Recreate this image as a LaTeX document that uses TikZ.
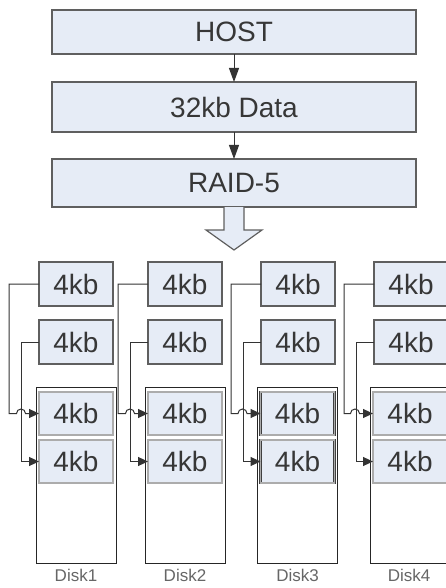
\documentclass[tikz,border=0pt]{standalone}
\usepackage{fontspec}
\setsansfont{Liberation Sans}
\usetikzlibrary{arrows.meta,positioning}
\definecolor{boxfill}{RGB}{230,236,246}
\definecolor{boxline}{RGB}{95,95,95}
\definecolor{textgray}{RGB}{55,55,55}
\tikzset{%
  >={Triangle[width=9pt,length=10pt]},
  % Specifications for style of nodes:
       topbox/.style = {rectangle, draw=boxline, line width=1.4pt,
                        fill=boxfill, minimum width=364pt, inner sep=0pt,
                        outer sep=0pt, text=textgray,
                        font=\sffamily\fontsize{28}{30}\selectfont},
     blockbox/.style = {topbox, minimum width=74pt, minimum height=44pt},
    diskblock/.style = {blockbox, draw=black!75, line width=0.6pt,
                        double=gray!65, double distance=1.4pt,
                        minimum height=43pt},
      diskbox/.style = {rectangle, draw=black!85, line width=1pt, fill=white,
                        minimum width=80pt, minimum height=176pt,
                        inner sep=0pt, outer sep=0pt},
    disklabel/.style = {inner sep=0pt, text=gray!80!black,
                        font=\sffamily\fontsize{17}{19}\selectfont},
  % Specifications for style of lines:
         link/.style = {->, draw=black!80, line width=1pt},
         flow/.style = {-{Triangle[width=10pt,length=14pt]}, draw=black!80,
                        line width=1pt},
     bigarrow/.style = {draw=boxline, line width=1.2pt, fill=boxfill,
                        line join=miter},
}

\begin{document}
\begin{tikzpicture}[x=1pt, y=-1pt, node distance=75pt]
  \useasboundingbox (0,0) rectangle (446,588);

  % Specification of nodes (position, etc.)
  \node (host)  [topbox, minimum height=44pt] at (234,32) {HOST};
  \node (data)  [topbox, minimum height=50pt, below of=host] {32kb Data};
  \node (raid)  [topbox, minimum height=48pt, below of=data, yshift=-1pt] {RAID-5};

  % disks: frame first, then the blocks on top
  \node (disk1) [diskbox] at (76,475)    {};
  \node (disk2) [diskbox] at (185,475)   {};
  \node (disk3) [diskbox] at (297.5,475) {};
  \node (disk4) [diskbox] at (410,475)   {};

  \node (a1)    [blockbox] at (76,284)    {4kb};
  \node (b1)    [blockbox, below=14pt of a1] {4kb};
  \node (c1)    [diskblock, below=5pt of disk1.north] {4kb};
  \node (d1)    [diskblock, below=5pt of c1] {4kb};

  \node (a2)    [blockbox] at (185,284)   {4kb};
  \node (b2)    [blockbox, below=14pt of a2] {4kb};
  \node (c2)    [diskblock, below=5pt of disk2.north] {4kb};
  \node (d2)    [diskblock, below=5pt of c2] {4kb};

  \node (a3)    [blockbox] at (298,284)   {4kb};
  \node (b3)    [blockbox, below=14pt of a3] {4kb};
  \node (c3)    [diskblock, below=5pt of disk3.north] {4kb};
  \node (d3)    [diskblock, below=5pt of c3] {4kb};

  \node (a4)    [blockbox] at (411,284)   {4kb};
  \node (b4)    [blockbox, below=14pt of a4] {4kb};
  \node (c4)    [diskblock, below=5pt of disk4.north] {4kb};
  \node (d4)    [diskblock, below=5pt of c4] {4kb};

  \node (l1)    [disklabel, below=6pt of disk1] {Disk1};
  \node (l2)    [disklabel, below=6pt of disk2] {Disk2};
  \node (l3)    [disklabel, below=6pt of disk3] {Disk3};
  \node (l4)    [disklabel, below=6pt of disk4, xshift=-1pt] {Disk4};

  % Specification of lines between nodes specified above
  \draw[flow]   (host) -- (data);
  \draw[flow]   (data) -- (raid);
  \draw[bigarrow] ([xshift=-10pt]raid.south) -- ++(0,23) -- ++(-18,0)
                  -- ++(28,20) -- ++(28,-20) -- ++(-18,0) -- ++(0,-23);

  % striping into the disks, upper line hops over the lower one
  \draw[link]   (a1.west) -- ++(-30,0) |- ([xshift=-22.5pt]c1.west)
                arc[start angle=180, end angle=0, radius=4.5pt] -- (c1.west);
  \draw[link]   (b1.west) -- ++(-18,0) |- (d1.west);
  \draw[link]   (a2.west) -- ++(-30,0) |- ([xshift=-22.5pt]c2.west)
                arc[start angle=180, end angle=0, radius=4.5pt] -- (c2.west);
  \draw[link]   (b2.west) -- ++(-18,0) |- (d2.west);
  \draw[link]   (a3.west) -- ++(-30,0) |- ([xshift=-22.5pt]c3.west)
                arc[start angle=180, end angle=0, radius=4.5pt] -- (c3.west);
  \draw[link]   (b3.west) -- ++(-18,0) |- (d3.west);
  \draw[link]   (a4.west) -- ++(-30,0) |- ([xshift=-22.5pt]c4.west)
                arc[start angle=180, end angle=0, radius=4.5pt] -- (c4.west);
  \draw[link]   (b4.west) -- ++(-18,0) |- (d4.west);
\end{tikzpicture}
\end{document}
